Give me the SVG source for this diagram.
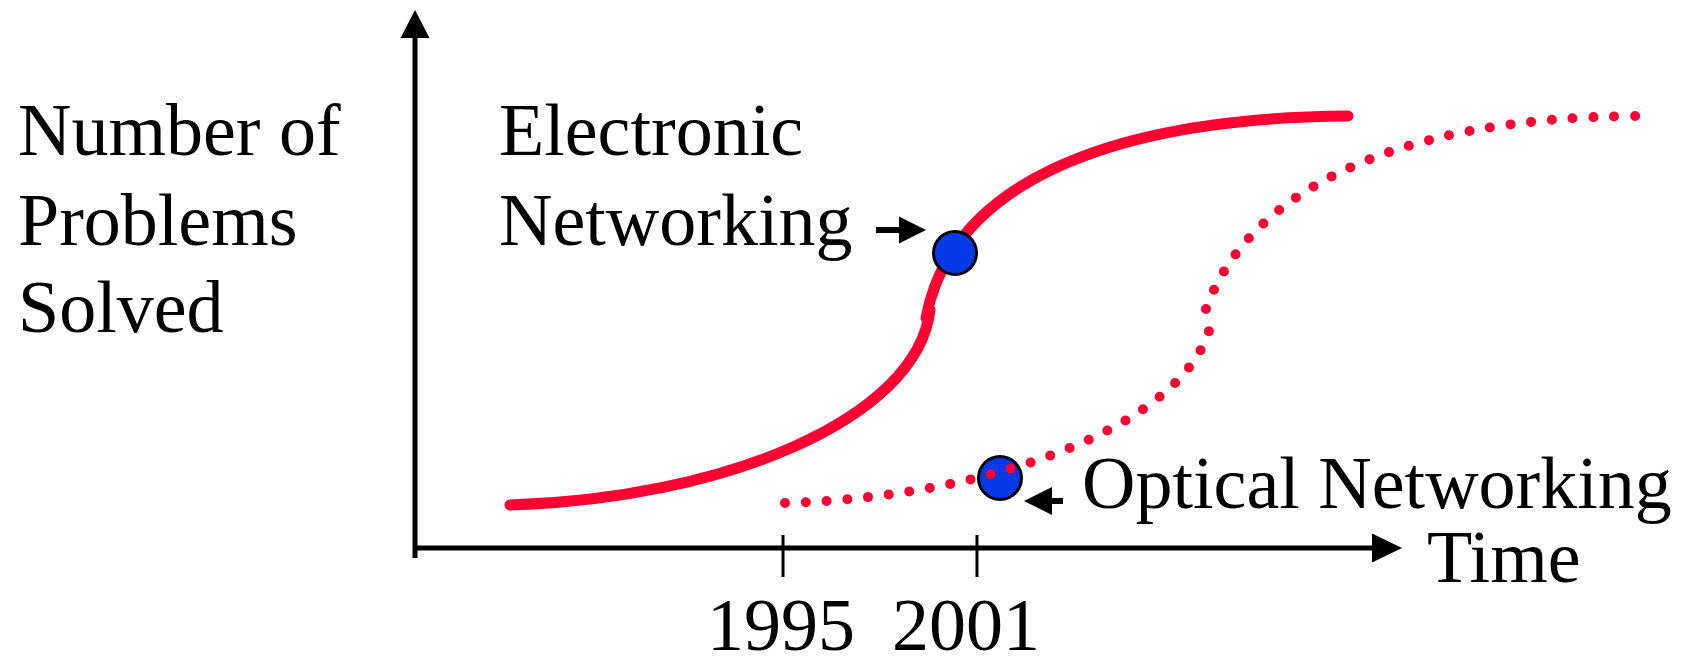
<svg xmlns="http://www.w3.org/2000/svg" width="1690" height="665" viewBox="0 0 1690 665">
<style>
.axis{stroke:#000;stroke-width:5;fill:none}
.tick{stroke:#000;stroke-width:3;fill:none}
.solid{stroke:#FF0033;stroke-width:11;fill:none;stroke-linecap:round}
.dots{stroke:#FF0033;stroke-width:10;fill:none;stroke-linecap:round;stroke-dasharray:0 20.8}
.dot{fill:#0339E6;stroke:#000;stroke-width:3}
.ptr{stroke:#000;stroke-width:6;fill:none}
</style>
<rect width="1690" height="665" fill="#fff"/>
<g id="axes">
<line class="axis" x1="415" y1="34" x2="415" y2="558"/>
<polygon points="415,10 400.5,38 429.5,38" fill="#000"/>
<line class="axis" x1="415" y1="548" x2="1376" y2="548"/>
<polygon points="1402,548 1372,533.5 1372,562.5" fill="#000"/>
<line class="tick" x1="783" y1="535" x2="783" y2="577"/>
<line class="tick" x1="977" y1="535" x2="977" y2="577"/>
</g>
<g id="y-label" font-family="Liberation Serif" font-size="74" fill="#000">
<text x="18" y="155">Number of</text>
<text x="18" y="245">Problems</text>
<text x="18" y="332">Solved</text>
</g>
<g id="x-labels" font-family="Liberation Serif" font-size="74" fill="#000">
<text x="781" y="650" text-anchor="middle">1995</text>
<text x="966" y="650" text-anchor="middle">2001</text>
<text x="1427" y="582">Time</text>
</g>
<g id="electronic-curve">
<path class="solid" d="M510,505 C721,499 917,420 930,310"/>
<path class="solid" d="M926,318 C950,190 1096,118 1348,116"/>
</g>
<g id="electronic-point">
<circle class="dot" cx="955" cy="253" r="21.5"/>
</g>
<g id="optical-point">
<circle class="dot" cx="1000" cy="478" r="21.5"/>
</g>
<g id="optical-curve">
<path class="dots" d="M785,503 C1000,497 1200,420 1213,313"/>
<path class="dots" d="M1206,309 C1245,200 1380,118 1636,116"/>
</g>
<g id="electronic-label" font-family="Liberation Serif" font-size="74" fill="#000">
<text x="499" y="155">Electronic</text>
<text x="499" y="245">Networking</text>
</g>
<g id="optical-label" font-family="Liberation Serif" font-size="74" fill="#000">
<text x="1082" y="508">Optical Networking</text>
</g>
<g id="connectors">
<line class="ptr" x1="876" y1="230" x2="902" y2="230"/>
<polygon points="926,230 899,216.5 899,243.5" fill="#000"/>
<line class="ptr" x1="1063" y1="501" x2="1048" y2="501"/>
<polygon points="1024,501 1052,487 1052,515" fill="#000"/>
</g>
</svg>
